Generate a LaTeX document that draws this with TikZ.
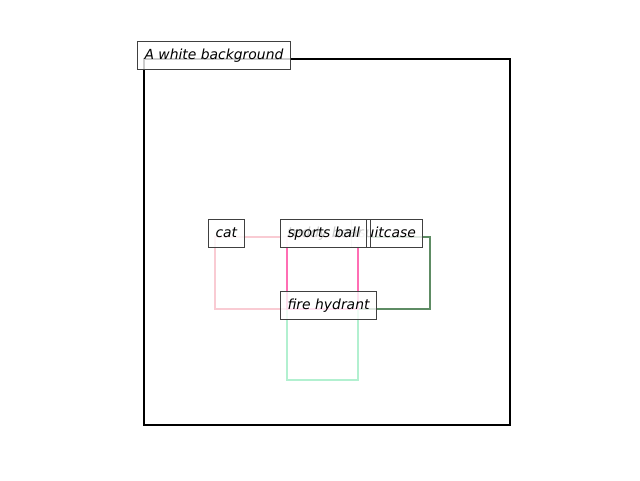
\documentclass[tikz,border=0pt]{standalone}
\usepackage{fontspec}
\setmainfont{DejaVu Sans}
\definecolor{catpink}{HTML}{F9CBD3}
\definecolor{hotpk}{HTML}{FF6EB4}
\definecolor{sgreen}{HTML}{5E8C64}
\definecolor{mintc}{HTML}{B2F0D0}
\begin{document}
\begin{tikzpicture}[x=1pt,y=-1pt,
  bbox/.style={line width=2.5pt},
  lbl/.style={draw=black!75, line width=1pt, fill=white, fill opacity=0.8, text opacity=1,
    anchor=base west, xshift=-7pt, inner xsep=7pt, inner ysep=4pt,
    text height=14pt, text depth=6pt, font=\fontsize{13.9}{16}\selectfont\itshape}]
\useasboundingbox (0,0) rectangle (640,480);
% frame
\draw[line width=2.2pt, black] (144,59) rectangle (510,425);
% boxes
\draw[bbox, catpink] (215,237) rectangle (358,309);
\draw[bbox, mintc] (287,309) rectangle (358,380);
\draw[bbox, sgreen] (358,237) rectangle (430,309);
\draw[bbox, hotpk] (287,237) rectangle (358,309);
% labels
\node[lbl] (bg) at (144,59) {A white background};
\node[lbl] (cat) at (215,237) {cat};
\node[lbl] (suit) at (358,237) {suitcase};
\node[lbl] (teddy) at (287,237) {teddy bear};
\node[lbl] (ball) at (287,237) {sports ball};
\node[lbl] (hyd) at (287,309) {fire hydrant};
\end{tikzpicture}
\end{document}
